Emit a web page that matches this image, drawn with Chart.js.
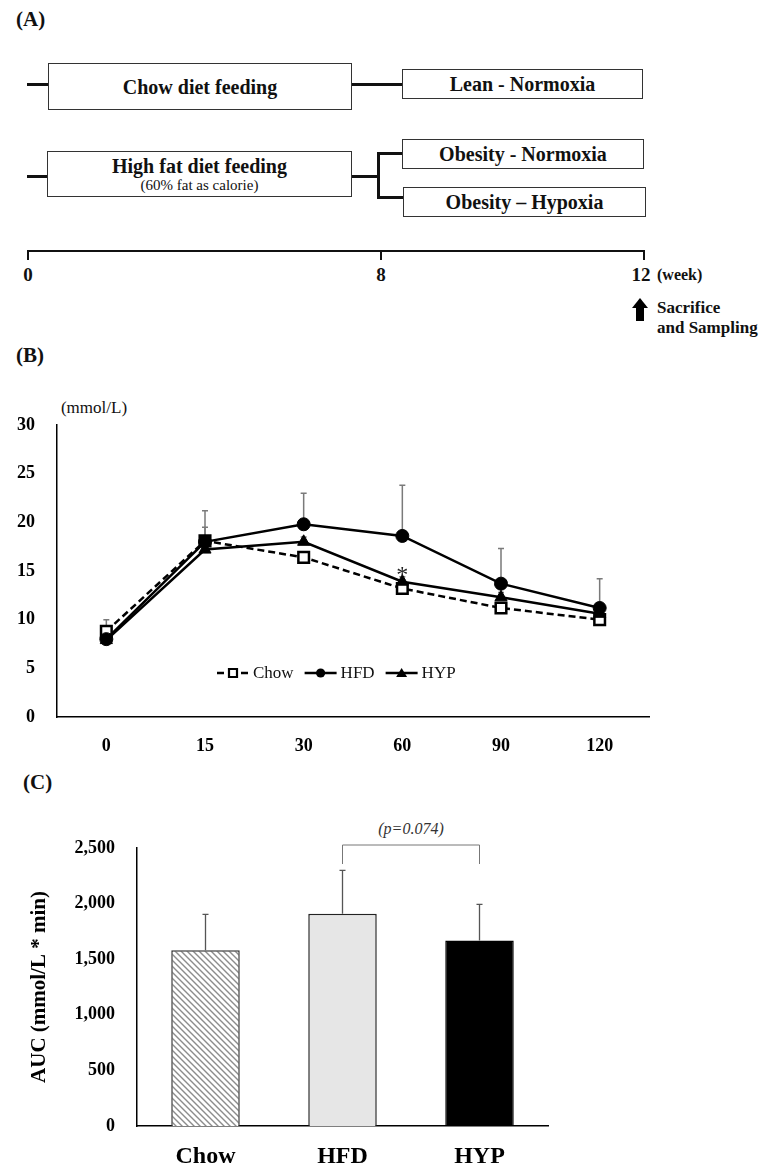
<!DOCTYPE html>
<html>
<head>
<meta charset="utf-8">
<title>OGTT figure</title>
<script src="https://cdn.jsdelivr.net/npm/chart.js@4.4.1/dist/chart.umd.min.js"></script>
<style>
  body { margin: 0; background: #fff; font-family: "Liberation Serif", "Times New Roman", serif; color: #111; }
  #page { position: relative; width: 772px; height: 1176px; overflow: hidden; }
  .t { position: absolute; transform: translate(-50%, -50%); white-space: nowrap; line-height: 1; }
  .tl { position: absolute; transform: translateY(-50%); white-space: nowrap; line-height: 1; }
  .b { font-weight: bold; }
  .box { position: absolute; box-sizing: border-box; border: 1.5px solid #333; display: flex; flex-direction: column;
         align-items: center; justify-content: center; font-weight: bold; font-size: 20px; line-height: 1; }
  .ln { position: absolute; background: #111; }
  .wrap { position: absolute; left: 0; }
</style>
</head>
<body>
<div id="page">
  <!-- (A) study design -->
  <div class="tl b" style="left:16px; top:19px; font-size:21px;">(A)</div>

  <div class="ln" style="left:27px; top:83px; width:21px; height:2.5px;"></div>
  <div class="box" style="left:48px; top:63px; width:304px; height:47px;">Chow diet feeding</div>
  <div class="ln" style="left:352px; top:83px; width:50px; height:2.5px;"></div>
  <div class="box" style="left:402px; top:69px; width:241px; height:30px;">Lean - Normoxia</div>

  <div class="ln" style="left:27px; top:175px; width:20px; height:2.5px;"></div>
  <div class="box" style="left:47px; top:151px; width:305px; height:46px;">
    <div>High fat diet feeding</div>
    <div style="font-weight:normal; font-size:15px; margin-top:2px;">(60% fat as calorie)</div>
  </div>
  <div class="ln" style="left:352px; top:175px; width:27px; height:2.5px;"></div>
  <div class="ln" style="left:377px; top:152px; width:2.5px; height:46px;"></div>
  <div class="ln" style="left:377px; top:152px; width:25px; height:2.5px;"></div>
  <div class="ln" style="left:377px; top:196px; width:26px; height:2.5px;"></div>
  <div class="box" style="left:402px; top:139px; width:242px; height:30px;">Obesity - Normoxia</div>
  <div class="box" style="left:403px; top:187px; width:243px; height:30px;">Obesity – Hypoxia</div>

  <div class="ln" style="left:27px; top:250px; width:618px; height:1.5px;"></div>
  <div class="ln" style="left:27px; top:250px; width:1.5px; height:10px;"></div>
  <div class="ln" style="left:380px; top:250px; width:1.5px; height:10px;"></div>
  <div class="ln" style="left:643px; top:250px; width:1.5px; height:10px;"></div>
  <div class="t b" style="left:28px; top:274px; font-size:19px;">0</div>
  <div class="t b" style="left:381px; top:274px; font-size:19px;">8</div>
  <div class="t b" style="left:641px; top:274px; font-size:19px;">12</div>
  <div class="tl b" style="left:657px; top:275px; font-size:16px;">(week)</div>
  <div style="position:absolute; left:632px; top:298px; width:0; height:0; border-left:8px solid transparent; border-right:8px solid transparent; border-bottom:10px solid #000;"></div>
  <div class="ln" style="left:636px; top:307px; width:8px; height:14px; background:#000;"></div>
  <div class="tl b" style="left:657px; top:307px; font-size:17px;">Sacrifice</div>
  <div class="tl b" style="left:657px; top:327px; font-size:17px;">and Sampling</div>

  <!-- (B) glucose tolerance -->
  <div class="tl b" style="left:16px; top:355px; font-size:21px;">(B)</div>
  <div class="t" style="left:94px; top:407px; font-size:17px;">(mmol/L)</div>
  <div class="wrap" style="top:410px; width:660px; height:350px;"><canvas id="ogttChart"></canvas></div>

  <!-- (C) area under curve -->
  <div class="tl b" style="left:23px; top:782px; font-size:21px;">(C)</div>
  <div class="t" style="left:411px; top:829px; font-size:16px; font-style:italic; color:#333;">(p=0.074)</div>
  <div class="wrap" style="top:830px; width:560px; height:346px;"><canvas id="aucChart"></canvas></div>
</div>

<script>
// OGTT time points (min) and blood glucose (mmol/L)
var timePoints = ['0', '15', '30', '60', '90', '120'];
var chowGlucose = [8.8, 18.1, 16.4, 13.2, 11.2, 10.0];
var hfdGlucose = [8.0, 18.0, 19.8, 18.6, 13.7, 11.2];
var hypGlucose = [7.9, 17.2, 18.0, 13.9, 12.3, 10.6];
var chowSD = [1.2, 1.4, 0.5, 0.5, 0.5, 0.4];
var hfdSD = [0.4, 3.2, 3.2, 5.2, 3.6, 3.0];
var hypSD = [0.4, 0.5, 0.5, 0.5, 0.5, 0.4];
var hypSig = ['', '', '', '*', '', ''];

// AUC per group
var groups = ['Chow', 'HFD', 'HYP'];
var aucMean = [1580, 1908, 1668];
var aucSD = [323, 391, 325];

Chart.defaults.font.family = '"Liberation Serif", "Times New Roman", serif';
Chart.defaults.color = '#111';

var tickFont = { size: 18, weight: 'bold' };

// y axis: fixed width, no extra label padding on top/bottom
function fixY(width) {
    return function (scale) {
        scale.width = width;
        scale.paddingTop = 0;
        scale.paddingBottom = 0;
    };
}

// upper error bars for the line chart, drawn under the lines
var lineErrorBars = {
    id: 'lineErrorBars',
    beforeDatasetsDraw: function (chart) {
        var ctx = chart.ctx;
        var y = chart.scales.y;
        ctx.save();
        ctx.strokeStyle = '#7a7a7a';
        ctx.lineWidth = 1.5;
        chart.data.datasets.forEach(function (ds, i) {
            chart.getDatasetMeta(i).data.forEach(function (pt, j) {
                var top = y.getPixelForValue(ds.data[j] + ds.errors[j]);
                ctx.beginPath();
                ctx.moveTo(pt.x, pt.y);
                ctx.lineTo(pt.x, top);
                ctx.moveTo(pt.x - 3, top);
                ctx.lineTo(pt.x + 3, top);
                ctx.stroke();
            });
        });
        ctx.restore();
    },
    afterDatasetsDraw: function (chart) {
        // significance mark over HYP
        var ctx = chart.ctx;
        var meta = chart.getDatasetMeta(2);
        ctx.save();
        ctx.fillStyle = '#222';
        ctx.font = '24px "Liberation Serif"';
        ctx.textAlign = 'center';
        ctx.textBaseline = 'middle';
        hypSig.forEach(function (s, j) {
            if (s) ctx.fillText(s, meta.data[j].x, meta.data[j].y - 6);
        });
        ctx.restore();
    }
};

function drawMark(ctx, style, x, y) {
    ctx.beginPath();
    if (style === 'rect') {
        ctx.fillStyle = '#fff';
        ctx.lineWidth = 2.2;
        ctx.rect(x - 4, y - 4, 8, 8);
        ctx.fill();
        ctx.stroke();
    } else if (style === 'circle') {
        ctx.fillStyle = '#000';
        ctx.arc(x, y, 4.6, 0, Math.PI * 2);
        ctx.fill();
    } else {
        ctx.fillStyle = '#000';
        ctx.moveTo(x, y - 5);
        ctx.lineTo(x + 5.5, y + 4);
        ctx.lineTo(x - 5.5, y + 4);
        ctx.closePath();
        ctx.fill();
    }
}

// legend with line + marker, inside the plot
var lineLegend = {
    id: 'lineLegend',
    afterDraw: function (chart) {
        var ctx = chart.ctx;
        var x = 217;
        var y = 263;
        ctx.save();
        ctx.font = '17px "Liberation Serif"';
        ctx.textBaseline = 'middle';
        chart.data.datasets.forEach(function (ds) {
            ctx.strokeStyle = '#000';
            ctx.lineWidth = 2.5;
            ctx.setLineDash(ds.borderDash || []);
            ctx.beginPath();
            if (ds.borderDash) {
                ctx.moveTo(x, y); ctx.lineTo(x + 8, y);
                ctx.moveTo(x + 24, y); ctx.lineTo(x + 32, y);
            } else {
                ctx.moveTo(x, y); ctx.lineTo(x + 32, y);
            }
            ctx.stroke();
            ctx.setLineDash([]);
            drawMark(ctx, ds.pointStyle, x + 16, y);
            ctx.fillStyle = '#111';
            ctx.fillText(ds.label, x + 36, y + 1);
            x += 36 + ctx.measureText(ds.label).width + 11;
        });
        ctx.restore();
    }
};

new Chart(document.getElementById('ogttChart'), {
    type: 'line',
    data: {
        labels: timePoints,
        datasets: [{
            label: 'Chow',
            data: chowGlucose,
            errors: chowSD,
            borderColor: '#000',
            borderWidth: 2.5,
            borderDash: [7, 4],
            pointStyle: 'rect',
            pointRadius: 7.5,
            pointBorderWidth: 2.5,
            pointBackgroundColor: '#fff',
            pointBorderColor: '#000',
            order: 3
        }, {
            label: 'HFD',
            data: hfdGlucose,
            errors: hfdSD,
            borderColor: '#000',
            borderWidth: 2.5,
            pointStyle: 'circle',
            pointRadius: 6.5,
            pointBorderWidth: 1,
            pointBackgroundColor: '#000',
            pointBorderColor: '#000',
            order: 2
        }, {
            label: 'HYP',
            data: hypGlucose,
            errors: hypSD,
            borderColor: '#000',
            borderWidth: 2.5,
            pointStyle: 'triangle',
            pointRadius: 7,
            pointBorderWidth: 1,
            pointBackgroundColor: '#000',
            pointBorderColor: '#000',
            order: 1
        }]
    },
    options: {
        responsive: true,
        maintainAspectRatio: false,
        animation: false,
        layout: { padding: { top: 15, right: 11, left: 0, bottom: 0 } },
        plugins: { legend: { display: false }, tooltip: { enabled: false } },
        scales: {
            x: {
                offset: true,
                grid: { display: false, drawTicks: false },
                border: { display: true, color: '#000', width: 1.5 },
                ticks: { font: tickFont, color: '#000', padding: 19 },
                afterFit: function (scale) { scale.height = 43; }
            },
            y: {
                min: 0,
                max: 30,
                ticks: { stepSize: 5, font: tickFont, color: '#000', padding: 22 },
                grid: { display: false, drawTicks: false },
                border: { display: true, color: '#000', width: 1.5 },
                afterFit: fixY(57)
            }
        }
    },
    plugins: [lineErrorBars, lineLegend]
});

// hatched fill for the Chow bar
var aucCanvas = document.getElementById('aucChart');
function makeHatch() {
    var c = document.createElement('canvas');
    c.width = 6;
    c.height = 6;
    var g = c.getContext('2d');
    g.fillStyle = '#fff';
    g.fillRect(0, 0, 6, 6);
    g.strokeStyle = '#8c8c8c';
    g.lineWidth = 1.4;
    g.beginPath();
    g.moveTo(0, 0); g.lineTo(6, 6);
    g.moveTo(-3, 3); g.lineTo(3, 9);
    g.moveTo(3, -3); g.lineTo(9, 3);
    g.stroke();
    return aucCanvas.getContext('2d').createPattern(c, 'repeat');
}

var barErrorBars = {
    id: 'barErrorBars',
    afterDatasetsDraw: function (chart) {
        var ctx = chart.ctx;
        var y = chart.scales.y;
        var ds = chart.data.datasets[0];
        var bars = chart.getDatasetMeta(0).data;
        ctx.save();
        ctx.strokeStyle = '#555';
        ctx.lineWidth = 1.3;
        bars.forEach(function (bar, j) {
            var top = y.getPixelForValue(ds.data[j] + ds.errors[j]);
            ctx.beginPath();
            ctx.moveTo(bar.x, bar.y);
            ctx.lineTo(bar.x, top);
            ctx.moveTo(bar.x - 3, top);
            ctx.lineTo(bar.x + 3, top);
            ctx.stroke();
        });
        // comparison bracket HFD vs HYP
        var bTop = chart.chartArea.top - 3;
        ctx.strokeStyle = '#777';
        ctx.lineWidth = 1;
        ctx.beginPath();
        ctx.moveTo(bars[1].x, bTop + 19);
        ctx.lineTo(bars[1].x, bTop);
        ctx.lineTo(bars[2].x, bTop);
        ctx.lineTo(bars[2].x, bTop + 19);
        ctx.stroke();
        ctx.restore();
    }
};

new Chart(aucCanvas, {
    type: 'bar',
    data: {
        labels: groups,
        datasets: [{
            data: aucMean,
            errors: aucSD,
            backgroundColor: [makeHatch(), '#e6e6e6', '#000'],
            borderColor: ['#333', '#222', '#000'],
            borderWidth: 1.5,
            barPercentage: 0.5,
            categoryPercentage: 1.0
        }]
    },
    options: {
        responsive: true,
        maintainAspectRatio: false,
        animation: false,
        layout: { padding: { top: 18, right: 12, left: 0, bottom: 0 } },
        plugins: { legend: { display: false }, tooltip: { enabled: false } },
        scales: {
            x: {
                grid: { display: false, drawTicks: false },
                border: { display: true, color: '#000', width: 1.5 },
                ticks: { font: { size: 24, weight: 'bold' }, color: '#000', padding: 16 },
                afterFit: function (scale) { scale.height = 50; }
            },
            y: {
                min: 0,
                max: 2500,
                ticks: {
                    stepSize: 500,
                    font: tickFont,
                    color: '#000',
                    padding: 22,
                    callback: function (v) { return v.toLocaleString('en-US'); }
                },
                grid: { display: false, drawTicks: false },
                border: { display: true, color: '#000', width: 1.5 },
                title: {
                    display: true,
                    text: 'AUC (mmol/L * min)',
                    color: '#000',
                    font: { size: 21, weight: 'bold' },
                    padding: { top: 27, bottom: 0 }
                },
                afterFit: fixY(137)
            }
        }
    },
    plugins: [barErrorBars]
});
</script>
</body>
</html>
